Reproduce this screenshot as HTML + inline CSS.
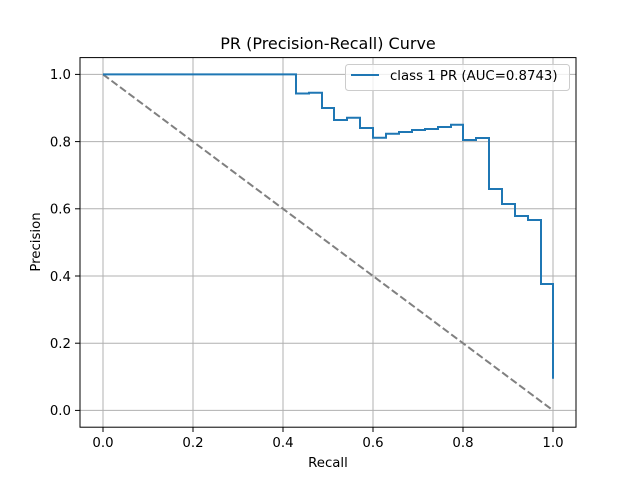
<!DOCTYPE html>
<html><head><style>body{margin:0;background:#fff}svg{display:block}</style></head><body>
<svg width="640" height="480" xmlns="http://www.w3.org/2000/svg" font-family="DejaVu Sans, Liberation Sans, sans-serif">
<rect width="640" height="480" fill="#fff"/>
<g stroke="#b0b0b0" stroke-width="1">
<line x1="103" y1="57.6" x2="103" y2="427.2"/><line x1="193" y1="57.6" x2="193" y2="427.2"/><line x1="283" y1="57.6" x2="283" y2="427.2"/><line x1="373" y1="57.6" x2="373" y2="427.2"/><line x1="463" y1="57.6" x2="463" y2="427.2"/><line x1="553" y1="57.6" x2="553" y2="427.2"/>
<line x1="80" y1="410.4" x2="576" y2="410.4"/><line x1="80" y1="343.2" x2="576" y2="343.2"/><line x1="80" y1="276" x2="576" y2="276"/><line x1="80" y1="208.8" x2="576" y2="208.8"/><line x1="80" y1="141.6" x2="576" y2="141.6"/><line x1="80" y1="74.4" x2="576" y2="74.4"/>
</g>
<line x1="103" y1="74.4" x2="553" y2="410.4" stroke="#808080" stroke-width="2" stroke-dasharray="7.4,3.2"/>
<polyline fill="none" stroke="#1f77b4" stroke-width="2" points="103,74.4 296,74.4 296,93.5 309,93.5 309,92.7 322,92.7 322,108 334,108 334,120 347,120 347,117.7 360,117.7 360,128 373,128 373,137.7 386,137.7 386,133.7 399,133.7 399,132 412,132 412,130 425,130 425,129 438,129 438,127 451,127 451,124.7 463,124.7 463,140 476,140 476,138 489,138 489,189 502,189 502,204 515,204 515,216 528,216 528,220 541,220 541,284 553,284 553,378.7"/>
<rect x="80" y="57.6" width="496" height="369.6" fill="none" stroke="#000" stroke-width="1"/>
<g stroke="#000" stroke-width="1">
<line x1="103" y1="427.2" x2="103" y2="432"/><line x1="193" y1="427.2" x2="193" y2="432"/><line x1="283" y1="427.2" x2="283" y2="432"/><line x1="373" y1="427.2" x2="373" y2="432"/><line x1="463" y1="427.2" x2="463" y2="432"/><line x1="553" y1="427.2" x2="553" y2="432"/>
<line x1="75" y1="410.4" x2="80" y2="410.4"/><line x1="75" y1="343.2" x2="80" y2="343.2"/><line x1="75" y1="276" x2="80" y2="276"/><line x1="75" y1="208.8" x2="80" y2="208.8"/><line x1="75" y1="141.6" x2="80" y2="141.6"/><line x1="75" y1="74.4" x2="80" y2="74.4"/>
</g>
<g font-size="13.3" fill="#000" text-anchor="middle">
<text x="103" y="447">0.0</text><text x="193" y="447">0.2</text><text x="283" y="447">0.4</text><text x="373" y="447">0.6</text><text x="463" y="447">0.8</text><text x="553" y="447">1.0</text>
</g>
<g font-size="13.3" fill="#000" text-anchor="end">
<text x="71" y="415">0.0</text><text x="71" y="348">0.2</text><text x="71" y="281">0.4</text><text x="71" y="213.5">0.6</text><text x="71" y="146.5">0.8</text><text x="71" y="79">1.0</text>
</g>
<text x="328" y="467" font-size="13.3" text-anchor="middle">Recall</text>
<text x="40" y="242" font-size="13.3" text-anchor="middle" transform="rotate(-90 40 242)">Precision</text>
<text x="328" y="49" font-size="16" text-anchor="middle">PR (Precision-Recall) Curve</text>
<rect x="345.5" y="64.5" width="224" height="26" rx="3" fill="#fff" fill-opacity="0.8" stroke="#ccc" stroke-width="1"/>
<line x1="351" y1="75" x2="379" y2="75" stroke="#1f77b4" stroke-width="2"/>
<text x="390" y="80" font-size="13.3">class 1 PR (AUC=0.8743)</text>
</svg>
</body></html>
